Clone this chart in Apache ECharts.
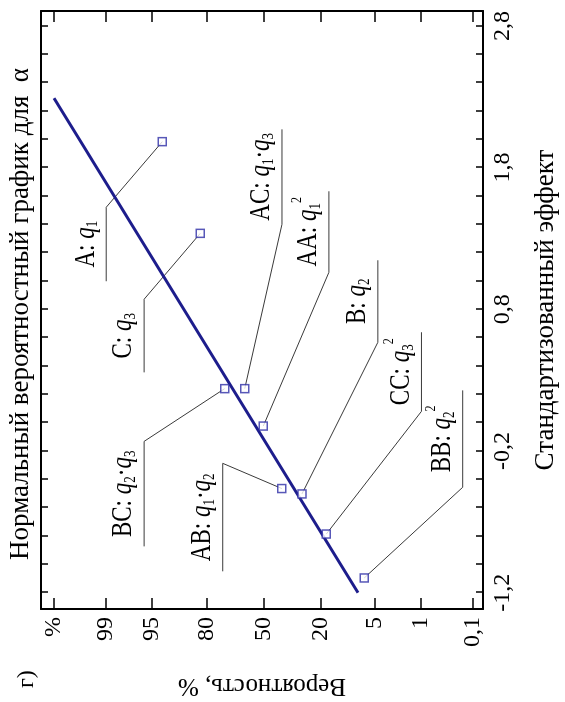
<!DOCTYPE html>
<html><head><meta charset="utf-8">
<script src="https://cdn.jsdelivr.net/npm/echarts@6/dist/echarts.min.js"></script>
<style>
html,body{margin:0;padding:0;background:#fff;width:565px;height:702px;overflow:hidden}
#chart{position:absolute;left:0;top:0;width:702px;height:565px;transform-origin:0 0;transform:translate(0,702px) rotate(-90deg);}
</style></head><body><div id="chart"></div>
<script>
// ---- data ----
const effectNames = ['A', 'C', 'BC', 'AC', 'AA', 'AB', 'B', 'CC', 'BB'];
const effectTerms = [
  [{sub:'1'}], [{sub:'3'}], [{sub:'2'},{sub:'3'}], [{sub:'1'},{sub:'3'}],
  [{sub:'1', sup:'2'}], [{sub:'1'},{sub:'2'}], [{sub:'2'}], [{sub:'3', sup:'2'}], [{sub:'2', sup:'2'}]
];
const effectValues = [1.983, 1.336, 0.240, 0.240, -0.024, -0.465, -0.503, -0.786, -1.096];
const probValues   = [93.2, 82.4, 71.6, 60.8, 50.0, 39.2, 28.4, 17.6, 6.8];
const fitLineEffect = [-1.2, 2.29];
const fitLineProb   = [8.1, 99.9];
const effectTicks = [-1.2,-1.0,-0.8,-0.6,-0.4,-0.2,0.0,0.2,0.4,0.6,0.8,1.0,1.2,1.4,1.6,1.8,2.0,2.2,2.4,2.6,2.8];
const effectLabelValues = [-1.2, -0.2, 0.8, 1.8, 2.8];
const effectTickLabels  = ['-1,2', '-0,2', '0,8', '1,8', '2,8'];
const probTicks      = [0.1, 1, 5, 20, 50, 80, 95, 99, 99.9];
const probTickLabels = ['0,1', '1', '5', '20', '50', '80', '95', '99', '%'];
// annotation layout (underline from/to in effect units, row in normal-score units)
const labelLayout = [
  {from:0.998, to:1.52, z:2.32, side:'right'},
  {from:0.355, to:0.871, z:1.76, side:'right'},
  {from:-0.873, to:-0.132, z:1.76, side:'right'},
  {from:1.40, to:2.07, z:-0.276, side:'left'},
  {from:1.061, to:1.633, z:-0.969, side:'left'},
  {from:-1.049, to:-0.287, z:0.599, side:'right'},
  {from:0.567, to:1.146, z:-1.692, side:'left'},
  {from:0.080, to:0.638, z:-2.336, side:'left'},
  {from:-0.456, to:0.228, z:-2.945, side:'left'}
];

// inverse normal CDF (probability paper scale)
function probit(pc){
  const p = pc/100;
  const a=[-3.969683028665376e+01,2.209460984245205e+02,-2.759285104469687e+02,1.383577518672690e+02,-3.066479806614716e+01,2.506628277459239e+00];
  const b=[-5.447609879822406e+01,1.615858368580409e+02,-1.556989798598866e+02,6.680131188771972e+01,-1.328068155288572e+01];
  const c=[-7.784894002430293e-03,-3.223964580411365e-01,-2.400758277161838e+00,-2.549732539343734e+00,4.374664141464968e+00,2.938163982698783e+00];
  const d=[7.784695709041462e-03,3.224671290700398e-01,2.445134137142996e+00,3.754408661907416e+00];
  const pl=0.02425, ph=1-pl; let q,r;
  if(p<pl){ q=Math.sqrt(-2*Math.log(p)); return (((((c[0]*q+c[1])*q+c[2])*q+c[3])*q+c[4])*q+c[5])/((((d[0]*q+d[1])*q+d[2])*q+d[3])*q+1); }
  if(p<=ph){ q=p-0.5; r=q*q; return (((((a[0]*r+a[1])*r+a[2])*r+a[3])*r+a[4])*r+a[5])*q/(((((b[0]*r+b[1])*r+b[2])*r+b[3])*r+b[4])*r+1); }
  q=Math.sqrt(-2*Math.log(1-p)); return -(((((c[0]*q+c[1])*q+c[2])*q+c[3])*q+c[4])*q+c[5])/((((d[0]*q+d[1])*q+d[2])*q+d[3])*q+1);
}

const FONT = '"Liberation Serif", "Times New Roman", serif';
const points = effectValues.map((v,i)=>[v, probit(probValues[i])]);
const fitLine = fitLineEffect.map((v,i)=>[v, probit(fitLineProb[i])]);
const probTickZ = probTicks.map(probit);

function labelText(i){
  return effectNames[i] + ': ' + effectTerms[i].map(t =>
    '{q|q}{s|' + t.sub + '}' + (t.sup ? '{p|' + t.sup + '}' : '')).join('{t|·}');
}
function nearestLabel(vals, labels, v){
  let bi=0, bd=Infinity;
  vals.forEach((x,i)=>{ const dd=Math.abs(x-v); if(dd<bd){bd=dd;bi=i;} });
  return bd < 1e-3 ? labels[bi] : '';
}

const chart = echarts.init(document.getElementById('chart'), null, {renderer:'canvas'});
const axisLineStyle = {color:'#000', width:2};
const tickStyle = {color:'#000', width:1.5};
chart.setOption({
  animation:false,
  backgroundColor:'#fff',
  grid:{left:93, right:11, top:41, bottom:82, containLabel:false, outerBoundsMode:'none'},
  graphic:[
    {type:'text', x:388, y:21, style:{text:'Нормальный вероятностный график для  α', align:'center', verticalAlign:'middle', font:'27px '+FONT, fill:'#000'}},
    {type:'text', x:14, y:27, style:{text:'г)', align:'left', verticalAlign:'middle', font:'24px '+FONT, fill:'#000'}}
  ],
  xAxis:[
    {type:'value', min:-1.315, max:2.905, position:'bottom',
     axisLine:{show:true, onZero:false, lineStyle:axisLineStyle},
     axisTick:{show:true, inside:true, length:7, customValues:effectTicks, lineStyle:tickStyle},
     axisLabel:{show:true, customValues:effectLabelValues, margin:8, fontSize:24, fontFamily:FONT, color:'#000',
       formatter:v=>nearestLabel(effectLabelValues, effectTickLabels, v)},
     splitLine:{show:false},
     name:'Стандартизованный эффект', nameLocation:'middle', nameGap:49,
     nameTextStyle:{fontSize:27, fontFamily:FONT, color:'#000'}},
    {type:'value', min:-1.315, max:2.905, position:'top',
     axisLine:{show:true, onZero:false, lineStyle:axisLineStyle},
     axisTick:{show:true, inside:true, length:7, customValues:effectTicks, lineStyle:tickStyle},
     axisLabel:{show:false}, splitLine:{show:false}}
  ],
  yAxis:[
    {type:'value', min:-3.245, max:3.283, position:'left',
     axisLine:{show:true, onZero:false, lineStyle:axisLineStyle},
     axisTick:{show:true, inside:true, length:11, customValues:probTickZ, lineStyle:tickStyle},
     axisLabel:{show:true, customValues:probTickZ, margin:8, fontSize:24, fontFamily:FONT, color:'#000',
       formatter:v=>nearestLabel(probTickZ, probTickLabels, v)},
     splitLine:{show:false},
     name:'Вероятность, %', nameLocation:'middle', nameGap:64, nameRotate:90,
     nameTextStyle:{fontSize:25, fontFamily:FONT, color:'#000'}},
    {type:'value', min:-3.245, max:3.283, position:'right',
     axisLine:{show:true, onZero:false, lineStyle:axisLineStyle},
     axisTick:{show:true, inside:true, length:11, customValues:probTickZ, lineStyle:tickStyle},
     axisLabel:{show:false}, splitLine:{show:false}}
  ],
  series:[
    {type:'custom', z:2, silent:true, data:points,
     renderItem:function(params, api){
       const i = params.dataIndex;
       const pt = api.coord([api.value(0), api.value(1)]);
       const L = labelLayout[i];
       const a = api.coord([L.from, L.z]), b = api.coord([L.to, L.z]);
       const attach = L.side==='right' ? b : a, other = L.side==='right' ? a : b;
       return {type:'group', children:[
         {type:'polyline', shape:{points:[other, attach, pt]}, style:{stroke:'#3a3a3a', lineWidth:1, fill:null}},
         {type:'text', x:(a[0]+b[0])/2, y:a[1]-1, scaleY:1.3, style:{
           text:labelText(i), align:'center', verticalAlign:'bottom',
           font:'23px '+FONT, fill:'#000', lineHeight:30,
           rich:{
             q:{fontStyle:'italic', fontSize:23, fontFamily:FONT, lineHeight:30, fill:'#000'},
             s:{fontSize:13, fontFamily:FONT, lineHeight:13, verticalAlign:'bottom', fill:'#000', padding:[0,0,3,0]},
             p:{fontSize:12, fontFamily:FONT, lineHeight:12, verticalAlign:'top', fill:'#000'},
             t:{fontSize:23, fontFamily:FONT, lineHeight:30, fill:'#000'}
           }}}
       ]};
     }},
    {type:'line', z:3, data:fitLine, showSymbol:false, silent:true,
     lineStyle:{color:'#1d1d8c', width:3}},
    {type:'scatter', z:5, data:points, symbol:'rect', symbolSize:8, silent:true,
     itemStyle:{color:'#fff', borderColor:'#2e2ea6', borderWidth:1.5}}
  ]
});
</script></body></html>
